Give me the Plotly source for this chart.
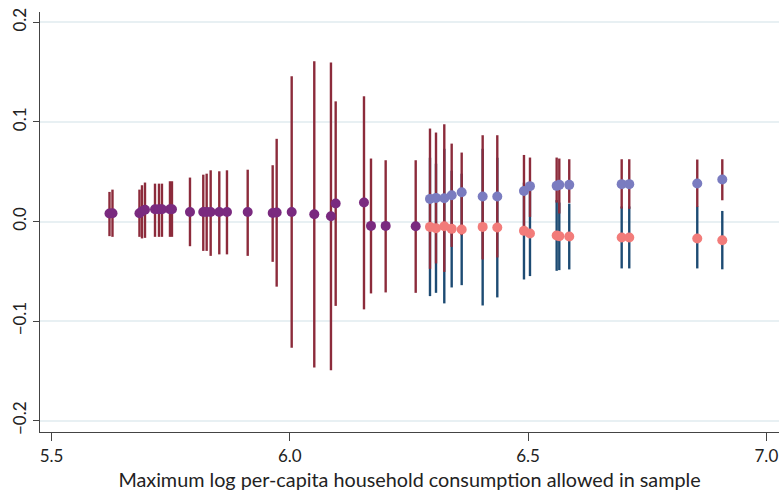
import plotly.graph_objects as go

# Single-series segment (purple points, maroon CI bars)
purple_x = [5.6217, 5.6280, 5.6846, 5.6899, 5.6962, 5.7172, 5.7256, 5.7318, 5.7486, 5.7528,
            5.7906, 5.8185, 5.8256, 5.8340, 5.8521, 5.8682, 5.9117, 5.9641, 5.9725, 6.0040,
            6.0514, 6.0864, 6.0963, 6.1557, 6.1704, 6.2012, 6.2642]
purple_est = [0.0080, 0.0083, 0.0083, 0.0103, 0.0118, 0.0123, 0.0123, 0.0123, 0.0123, 0.0123,
              0.0096, 0.0096, 0.0096, 0.0096, 0.0096, 0.0096, 0.0096, 0.0086, 0.0090, 0.0096,
              0.0073, 0.0053, 0.0180, 0.0190, -0.0044, -0.0044, -0.0047]
purple_lo = [-0.0147, -0.0154, -0.0154, -0.0170, -0.0164, -0.0154, -0.0154, -0.0154, -0.0154, -0.0154,
             -0.0248, -0.0295, -0.0295, -0.0345, -0.0330, -0.0330, -0.0345, -0.0405, -0.0654, -0.1268,
             -0.1465, -0.1492, -0.0847, -0.0882, -0.0722, -0.0712, -0.0716]
purple_hi = [0.0297, 0.0320, 0.0320, 0.0364, 0.0391, 0.0380, 0.0380, 0.0380, 0.0404, 0.0404,
             0.0441, 0.0470, 0.0480, 0.0514, 0.0504, 0.0514, 0.0520, 0.0565, 0.0830, 0.1458,
             0.1608, 0.1597, 0.1206, 0.1257, 0.0632, 0.0615, 0.0615]

# Two-series segment
two_x = [6.2942, 6.3068, 6.3242, 6.3397, 6.3607, 6.4047, 6.4354, 6.4914,
         6.5040, 6.5600, 6.5655, 6.5864, 6.6964, 6.7123, 6.8550, 6.9075]
up_est = [0.0227, 0.0237, 0.0234, 0.0264, 0.0294, 0.0251, 0.0251, 0.0307,
          0.0355, 0.0358, 0.0368, 0.0368, 0.0375, 0.0375, 0.0381, 0.0421]
up_lo = [-0.0475, -0.0421, -0.0506, -0.0255, -0.0137, -0.0381, -0.0361, -0.0117,
         0.0046, 0.0190, 0.0080, 0.0187, 0.0130, 0.0127, 0.0145, 0.0213]
up_hi = [0.0933, 0.0893, 0.0976, 0.0782, 0.0692, 0.0866, 0.0866, 0.0668,
         0.0642, 0.0642, 0.0632, 0.0625, 0.0625, 0.0625, 0.0622, 0.0625]
low_est = [-0.0054, -0.0067, -0.0047, -0.0074, -0.0080, -0.0054, -0.0060, -0.0094,
           -0.0120, -0.0140, -0.0147, -0.0150, -0.0160, -0.0160, -0.0171, -0.0188]
low_lo = [-0.0749, -0.0716, -0.0822, -0.0662, -0.0639, -0.0843, -0.0762, -0.0582,
          -0.0548, -0.0495, -0.0488, -0.0481, -0.0471, -0.0471, -0.0471, -0.0480]
low_hi = [0.0640, 0.0580, 0.0730, 0.0510, 0.0480, 0.0730, 0.0640, 0.0390,
          0.0310, 0.0215, 0.0190, 0.0180, 0.0151, 0.0151, 0.0150, 0.0106]

x_ticks = [5.5, 6.0, 6.5, 7.0]
y_ticks = [-0.2, -0.1, 0.0, 0.1, 0.2]
x_title = "Maximum log per-capita household consumption allowed in sample"

MAROON = "#8c2b3b"
NAVY = "#1d4b73"
PURPLE = "#7a2a7f"
BLUE_PT = "#7a7cc0"
PINK_PT = "#f27c7a"
FONT = "Lato"


def bar_trace(x, est, lo, hi, color):
    return go.Scatter(
        x=x, y=est, mode="markers",
        marker=dict(size=1, opacity=0),
        error_y=dict(type="data", symmetric=False,
                     array=[h - e for h, e in zip(hi, est)],
                     arrayminus=[e - l for e, l in zip(est, lo)],
                     color=color, thickness=2.4, width=0),
        showlegend=False, hoverinfo="skip")


def pt_trace(x, est, color):
    return go.Scatter(x=x, y=est, mode="markers",
                      marker=dict(size=10, color=color, line=dict(width=0)),
                      showlegend=False)


fig = go.Figure()
fig.add_trace(bar_trace(two_x, low_est, low_lo, low_hi, NAVY))
fig.add_trace(bar_trace(two_x, up_est, up_lo, up_hi, MAROON))
fig.add_trace(bar_trace(purple_x, purple_est, purple_lo, purple_hi, MAROON))
fig.add_trace(pt_trace(purple_x, purple_est, PURPLE))
fig.add_trace(pt_trace(two_x, up_est, BLUE_PT))
fig.add_trace(pt_trace(two_x, low_est, PINK_PT))

fig.update_layout(
    width=779, height=495,
    margin=dict(l=40, r=0, t=12, b=63),
    paper_bgcolor="white", plot_bgcolor="white",
    font=dict(family=FONT, size=17, color="#222222"),
    showlegend=False,
)
fig.update_xaxes(
    range=[5.4759, 7.0265], tickvals=x_ticks, ticktext=[f"{v:.1f}" for v in x_ticks],
    automargin=False,
    showgrid=False, zeroline=False,
    showline=True, linecolor="#444444", linewidth=1.3,
    ticks="outside", ticklen=8, tickwidth=1.3, tickcolor="#444444",
    title=dict(text=x_title, font=dict(family=FONT, size=19.8, color="#222222"), standoff=8),
)
fig.update_yaxes(
    range=[-0.2113, 0.2103], tickvals=y_ticks,
    ticktext=["\u22120.2", "\u22120.1", "0.0", "0.1", "0.2"],
    tickangle=-90, automargin=False,
    showgrid=True, gridcolor="#e8f0f3", gridwidth=1.5,
    zeroline=False,
    showline=True, linecolor="#444444", linewidth=1.3,
    ticks="outside", ticklen=6, tickwidth=1.3, tickcolor="#444444",
)

fig.write_html("out.html", config={"displayModeBar": False},
               post_script="document.body.style.margin='0';document.body.style.overflow='hidden';")
